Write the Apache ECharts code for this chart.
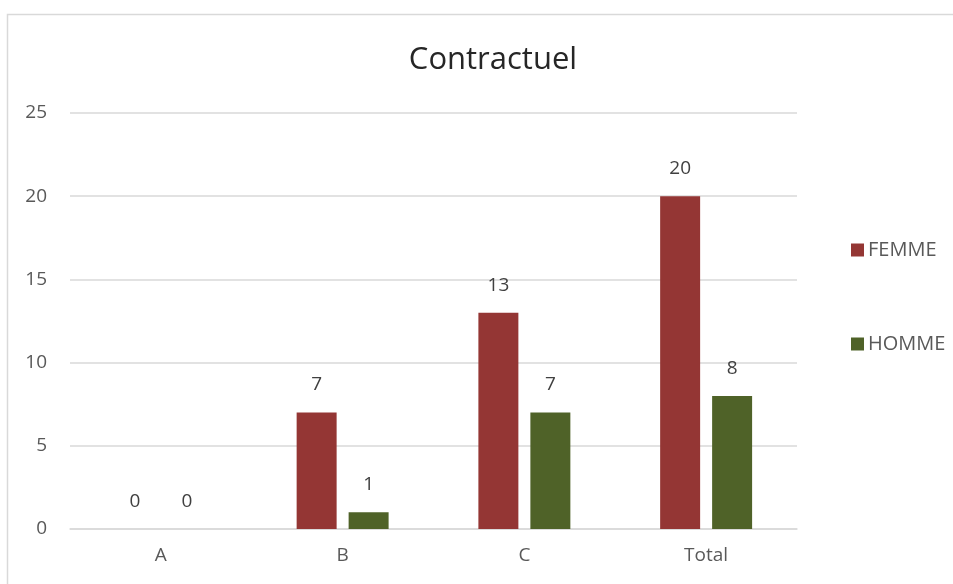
<!DOCTYPE html>
<html><head><meta charset="utf-8">
<script src="https://cdn.jsdelivr.net/npm/echarts@6/dist/echarts.min.js"></script>
<style>html,body{margin:0;padding:0;background:#fff}#c{width:953px;height:584px}</style>
</head><body><div id="c"></div>
<script>
const categories = ['A', 'B', 'C', 'Total'];
const femme = [0, 7, 13, 20];
const homme = [0, 1, 7, 8];
const seriesNames = ['FEMME', 'HOMME'];
const yTicks = [0, 5, 10, 15, 20, 25];

const font = 'Open Sans';
const chart = echarts.init(document.getElementById('c'));
chart.setOption({
  animation: false,
  backgroundColor: '#fff',
  textStyle: { fontFamily: font },
  graphic: [{
    type: 'rect', shape: { x: 7.5, y: 14.5, width: 1000, height: 700 },
    style: { fill: 'none', stroke: '#d9d9d9', lineWidth: 1.5 }, silent: true, z: -1
  }],
  title: {
    text: 'Contractuel', left: 488, textAlign: 'center', top: 40,
    textStyle: { fontFamily: font, fontSize: 31, fontWeight: 'normal', color: '#262626' }
  },
  legend: {
    orient: 'vertical', left: 846, top: 235, itemWidth: 13, itemHeight: 13, itemGap: 74,
    icon: 'rect',
    textStyle: { fontFamily: font, fontSize: 20, color: '#595959', lineHeight: 20, padding: [0, 0, 0, -1] },
    data: seriesNames
  },
  grid: { left: 70, right: 156, top: 113, bottom: 55, containLabel: false },
  xAxis: {
    type: 'category', data: categories,
    axisLine: { lineStyle: { color: '#d9d9d9', width: 1.5 } },
    axisTick: { show: false },
    axisLabel: { fontFamily: font, fontSize: 19, color: '#595959', margin: 17 }
  },
  yAxis: {
    type: 'value', min: 0, max: 25, interval: 5,
    axisLine: { show: false }, axisTick: { show: false },
    splitLine: { lineStyle: { color: '#d9d9d9', width: 1.5 } },
    axisLabel: { fontFamily: font, fontSize: 19, color: '#595959', margin: 23, align: 'right',
      formatter: v => yTicks.includes(v) ? String(v) : '' }
  },
  series: [
    { name: seriesNames[0], type: 'bar', data: femme, barWidth: '22%', barGap: '30%',
      itemStyle: { color: '#943634' },
      label: { show: true, position: 'top', distance: 18, fontFamily: font, fontSize: 19, color: '#404040' } },
    { name: seriesNames[1], type: 'bar', data: homme, barWidth: '22%', barGap: '30%',
      itemStyle: { color: '#4f6228' },
      label: { show: true, position: 'top', distance: 18, fontFamily: font, fontSize: 19, color: '#404040' } }
  ]
});
</script></body></html>
